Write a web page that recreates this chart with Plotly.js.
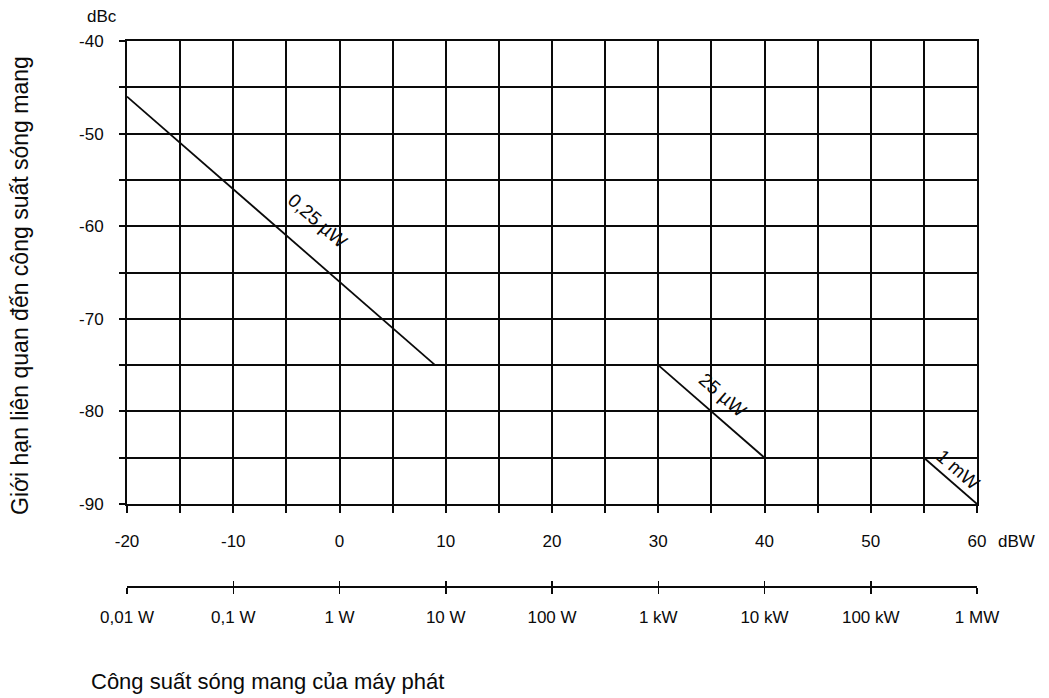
<!DOCTYPE html>
<html>
<head>
<meta charset="utf-8">
<script src="https://cdn.plot.ly/plotly-3.0.1.min.js"></script>
<style>html,body{margin:0;padding:0;background:#fff;}#chart{width:1049px;height:698px;}</style>
</head>
<body>
<div id="chart"></div>
<script>
// dBW axis ticks and the matching absolute power labels
const dbwTicks = [-20, -10, 0, 10, 20, 30, 40, 50, 60];
const dbwLabels = ['-20', '-10', '0', '10', '20', '30', '40', '50', '60'];
const wattLabels = ['0,01 W', '0,1 W', '1 W', '10 W', '100 W', '1 kW', '10 kW', '100 kW', '1 MW'];
const dbcTicks = [-40, -50, -60, -70, -80, -90];
const dbcLabels = ['-40', '-50', '-60', '-70', '-80', '-90'];

// limit lines (dBW -> dBc)
const line025uW_x = [-20, 9];
const line025uW_y = [-46, -75];
const line25uW_x = [30, 40];
const line25uW_y = [-75, -85];
const line1mW_x = [55, 60];
const line1mW_y = [-85, -90];

const FONT = 'Liberation Sans, Arial, sans-serif';
const INK = '#0a0a0a';
const lineStyle = {color: INK, width: 1.8};

const traces = [
  {x: line025uW_x, y: line025uW_y, mode: 'lines', line: lineStyle, hoverinfo: 'skip', showlegend: false},
  {x: line25uW_x, y: line25uW_y, mode: 'lines', line: lineStyle, hoverinfo: 'skip', showlegend: false},
  {x: line1mW_x, y: line1mW_y, mode: 'lines', line: lineStyle, hoverinfo: 'skip', showlegend: false}
];

const gridStyle = {showgrid: true, gridcolor: INK, gridwidth: 2};
const tickFont = {family: FONT, size: 17, color: INK};

const layout = {
  width: 1049, height: 698,
  margin: {l: 127, r: 72, t: 41, b: 111},
  paper_bgcolor: '#fff', plot_bgcolor: '#fff',
  font: {family: FONT, size: 17, color: INK},
  showlegend: false,
  xaxis: Object.assign({
    range: [-20, 60], tickvals: dbwTicks, ticktext: dbwLabels,
    ticks: 'outside', ticklen: 7, tickwidth: 2, tickcolor: INK,
    ticklabelstandoff: 14,
    showline: true, linecolor: INK, linewidth: 2, mirror: true,
    zeroline: false, anchor: 'y', fixedrange: true,
    tickfont: tickFont,
    minor: {dtick: 5, tick0: 0, showgrid: true, gridcolor: INK, gridwidth: 2, ticks: 'outside', ticklen: 7, tickwidth: 2, tickcolor: INK}
  }, gridStyle),
  yaxis: Object.assign({
    range: [-90, -40], tickvals: dbcTicks, ticktext: dbcLabels,
    ticks: 'outside', ticklen: 6, tickwidth: 2, tickcolor: INK,
    ticklabelstandoff: 12,
    showline: true, linecolor: INK, linewidth: 2, mirror: true,
    zeroline: false, domain: [0.152, 1], fixedrange: true,
    tickfont: tickFont,
    minor: {dtick: 5, tick0: 0, showgrid: true, gridcolor: INK, gridwidth: 2, ticks: 'outside', ticklen: 6, tickwidth: 2, tickcolor: INK}
  }, gridStyle),
  xaxis2: {
    overlaying: 'x', anchor: 'free', position: 0, side: 'bottom',
    range: [-20, 60], tickvals: dbwTicks, ticktext: wattLabels,
    ticks: 'outside', ticklen: 6, tickwidth: 1.5, tickcolor: INK,
    ticklabelstandoff: 9,
    showline: true, linecolor: INK, linewidth: 2,
    showgrid: false, zeroline: false, fixedrange: true,
    tickfont: tickFont
  },
  xaxis3: {
    overlaying: 'x', anchor: 'free', position: 0, side: 'bottom',
    range: [-20, 60], tickvals: dbwTicks, showticklabels: false,
    ticks: 'inside', ticklen: 6, tickwidth: 1.5, tickcolor: INK,
    showline: false, showgrid: false, zeroline: false, fixedrange: true
  },
  annotations: [
    {text: 'dBc', xref: 'paper', yref: 'paper', x: (102 - 127) / 850, y: (587 - 17) / 546,
     xanchor: 'center', yanchor: 'middle', showarrow: false, font: {family: FONT, size: 17, color: INK}},
    {text: 'dBW', xref: 'paper', yref: 'paper', x: (1016 - 127) / 850, y: (587 - 541) / 546,
     xanchor: 'center', yanchor: 'middle', showarrow: false, font: {family: FONT, size: 17, color: INK}},
    {text: 'Giới hạn liên quan đến công suất sóng mang', xref: 'paper', yref: 'paper',
     x: (20 - 127) / 850, y: (587 - 286) / 546, textangle: -90,
     xanchor: 'center', yanchor: 'middle', showarrow: false, font: {family: FONT, size: 23, color: INK}},
    {text: 'Công suất sóng mang của máy phát', xref: 'paper', yref: 'paper',
     x: (89 - 127) / 850, y: (587 - 681) / 546,
     xanchor: 'left', yanchor: 'middle', showarrow: false, font: {family: FONT, size: 22, color: INK}},
    {text: '0,25 µW', x: -2.1, y: -59.4, xref: 'x', yref: 'y', textangle: 41, showarrow: false,
     xanchor: 'center', yanchor: 'middle', font: {family: FONT, size: 19, color: INK}},
    {text: '25 µW', x: 36.0, y: -78.2, xref: 'x', yref: 'y', textangle: 41, showarrow: false,
     xanchor: 'center', yanchor: 'middle', font: {family: FONT, size: 19, color: INK}},
    {text: '1 mW', x: 58.2, y: -86.3, xref: 'x', yref: 'y', textangle: 41, showarrow: false,
     xanchor: 'center', yanchor: 'middle', font: {family: FONT, size: 19, color: INK}}
  ]
};

// empty traces so the overlay axes are drawn
traces.push({x: [-20, 60], y: [null, null], xaxis: 'x2', yaxis: 'y', mode: 'lines', hoverinfo: 'skip', showlegend: false});
traces.push({x: [-20, 60], y: [null, null], xaxis: 'x3', yaxis: 'y', mode: 'lines', hoverinfo: 'skip', showlegend: false});

Plotly.newPlot('chart', traces, layout, {displayModeBar: false, staticPlot: true});
</script>
</body>
</html>
